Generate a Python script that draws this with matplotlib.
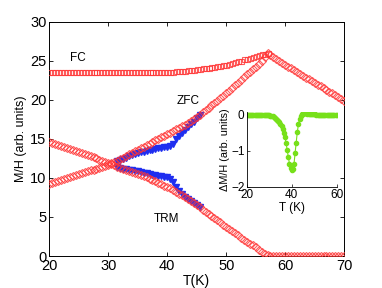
import numpy as np
import matplotlib
matplotlib.use('Agg')
import matplotlib.pyplot as plt

plt.rcParams['font.family'] = ['Liberation Sans', 'DejaVu Sans']

# temperature grids (K)
T_main = np.arange(20, 70.01, 0.5)
T_fc = np.arange(20, 57.01, 0.5)
T_blue = np.arange(31.5, 45.51, 0.5)
T_inset = np.arange(20, 60.01, 0.5)

fc = [23.5, 23.5, 23.5, 23.5, 23.5, 23.5, 23.5, 23.5, 23.5, 23.5,
      23.5, 23.5, 23.5, 23.5, 23.5, 23.5, 23.5, 23.5, 23.5, 23.5,
      23.5, 23.5, 23.5, 23.5, 23.5, 23.5, 23.5, 23.5, 23.5, 23.5,
      23.5, 23.5, 23.5, 23.5, 23.5, 23.5, 23.5,
      23.5, 23.52, 23.53, 23.55, 23.57, 23.6, 23.62, 23.65, 23.69, 23.72,
      23.76, 23.8, 23.85, 23.9, 23.95, 24.0, 24.06, 24.12, 24.18, 24.25,
      24.31, 24.37, 24.43, 24.5, 24.6, 24.7, 24.8, 24.9, 25.02, 25.15,
      25.27, 25.4, 25.5, 25.6, 25.7, 25.8, 25.9, 26.0]

zfc = [9.2, 9.32, 9.45, 9.57, 9.7, 9.82, 9.95, 10.07, 10.2, 10.32,
       10.45, 10.57, 10.7, 10.82, 10.95, 11.07, 11.2, 11.32, 11.45, 11.57,
       11.7, 11.85, 12.0, 12.2, 12.4, 12.6, 12.8, 13.0, 13.2, 13.4,
       13.6, 13.8, 14.0, 14.2, 14.4, 14.6, 14.8, 15.0, 15.2, 15.4,
       15.6, 15.8, 16.0, 16.2, 16.4, 16.6, 16.8, 17.02, 17.25, 17.5,
       17.8, 18.1, 18.4, 18.7, 19.0, 19.3, 19.6, 19.9, 20.2, 20.5,
       20.8, 21.15, 21.5, 21.85, 22.2, 22.55, 22.9, 23.25, 23.6, 23.9,
       24.2, 24.6, 25.0, 25.5, 26.0,
       25.75, 25.5, 25.25, 25.0, 24.75, 24.5, 24.25, 24.0, 23.75, 23.5,
       23.27, 23.05, 22.82, 22.6, 22.37, 22.15, 21.92, 21.7, 21.47, 21.25,
       21.02, 20.8, 20.57, 20.35, 20.12, 19.9]

trm = [14.6, 14.45, 14.3, 14.17, 14.05, 13.92, 13.8, 13.67, 13.55, 13.42,
       13.3, 13.17, 13.05, 12.92, 12.8, 12.65, 12.5, 12.35, 12.2, 12.05,
       11.9, 11.75, 11.6, 11.45, 11.3, 11.15, 11.0, 10.87, 10.75, 10.62,
       10.5, 10.35, 10.2, 10.05, 9.9, 9.72, 9.55, 9.37, 9.2, 9.02,
       8.85, 8.65, 8.45, 8.22, 8.0, 7.75, 7.5, 7.25, 7.0, 6.75,
       6.5, 6.22, 5.95, 5.67, 5.4, 5.12, 4.85, 4.57, 4.3, 4.02,
       3.75, 3.47, 3.2, 2.92, 2.65, 2.37, 2.1, 1.85, 1.6, 1.35,
       1.1, 0.82, 0.55, 0.3, 0.1,
       0.0, 0.0, 0.0, 0.0, 0.0, 0.0, 0.0, 0.0, 0.0, 0.0,
       0.0, 0.0, 0.0, 0.0, 0.0, 0.0, 0.0, 0.0, 0.0, 0.0,
       0.0, 0.0, 0.0, 0.0, 0.0, 0.0]

# second sample (blue), only where it separates from the red curves
zfc_blue = [12.2, 12.3, 12.45, 12.6, 12.75, 12.9, 13.03,
            13.15, 13.25, 13.35, 13.45, 13.55, 13.63, 13.7, 13.78, 13.85, 13.92,
            14.0, 14.1, 14.4, 15.0, 15.4, 15.8, 16.1, 16.5, 16.85, 17.2,
            17.6, 18.05]

trm_blue = [11.45, 11.3, 11.2, 11.1, 11.05, 11.0, 10.92,
            10.85, 10.75, 10.65, 10.57, 10.5, 10.42, 10.35, 10.27, 10.2, 10.12,
            10.05, 9.9, 9.5, 8.8, 8.3, 7.9, 7.6, 7.3, 7.0, 6.75,
            6.5, 6.22]

dmh = [0.01, 0.01, 0.01, 0.01, 0.0, 0.0, 0.0, 0.0, 0.0, 0.0,
       0.0, 0.0, 0.0, 0.0, 0.0, 0.0, 0.0, 0.0, -0.01, -0.01,
       -0.01, -0.02, -0.03, -0.04, -0.06, -0.08, -0.1, -0.13, -0.16, -0.2,
       -0.25, -0.31, -0.39, -0.5, -0.62, -0.78, -0.98, -1.17, -1.36, -1.47,
       -1.53, -1.52, -1.38, -1.07, -0.77, -0.47, -0.26, -0.11, -0.03, 0.02,
       0.04, 0.05, 0.05, 0.05, 0.04, 0.04, 0.03, 0.03, 0.02, 0.02,
       0.02, 0.02, 0.01, 0.01, 0.01, 0.01, 0.01, 0.01, 0.0, 0.0,
       0.0, 0.0, 0.0, 0.0, 0.0, 0.0, 0.0, 0.0, 0.0, 0.0,
       0.0]

red = '#ff3535'
blue = '#1f2ef0'
green = '#77e01a'

fig = plt.figure(figsize=(3.82, 2.88), dpi=100)
ax = fig.add_axes([0.129, 0.111, 0.772, 0.814])

ax.plot(T_blue, zfc_blue, ls='none', marker='v', ms=4.3, color=blue, mec=blue, zorder=2)
ax.plot(T_blue, trm_blue, ls='none', marker='v', ms=4.3, color=blue, mec=blue, zorder=2)
ax.plot(T_fc, fc, ls='none', marker='s', ms=3.6, mfc='none', mec=red, mew=0.8, alpha=0.8, zorder=3)
ax.plot(T_main, zfc, ls='none', marker='D', ms=3.6, mfc='none', mec=red, mew=0.8, alpha=0.8, zorder=3)
ax.plot(T_main, trm, ls='none', marker='D', ms=3.6, mfc='none', mec=red, mew=0.8, alpha=0.8, zorder=3)

ax.text(24.9, 25.4, 'FC', fontsize=8.5, ha='center', va='center')
ax.text(43.6, 19.8, 'ZFC', fontsize=8.5, ha='center', va='center')
ax.text(39.8, 4.7, 'TRM', fontsize=8.5, ha='center', va='center')

ax.set_xlim(20, 70)
ax.set_ylim(0, 30)
ax.set_xticks([20, 30, 40, 50, 60, 70])
ax.set_yticks([0, 5, 10, 15, 20, 25, 30])
ax.tick_params(direction='in', top=True, right=True, length=3, width=0.6, labelsize=10.5, pad=2)
for s in ax.spines.values():
    s.set_linewidth(0.7)
ax.set_xlabel('T(K)', fontsize=10, labelpad=1)
ax.set_ylabel('M/H (arb. units)', fontsize=9, labelpad=2)

axi = fig.add_axes([0.6458, 0.3517, 0.2356, 0.259])
axi.patch.set_alpha(0)
axi.plot(T_inset, dmh, '-', lw=0.8, color=green, marker='o', ms=3, mec=green, mfc=green)
axi.set_xlim(20, 60)
axi.set_ylim(-2, 0.08)
axi.set_xticks([20, 40, 60])
axi.set_yticks([-2, -1, 0])
axi.spines['top'].set_visible(False)
axi.spines['right'].set_visible(False)
for s in ['left', 'bottom']:
    axi.spines[s].set_linewidth(0.6)
axi.tick_params(direction='in', length=2.5, width=0.5, labelsize=8.5, pad=1.5)
axi.set_xlabel('T (K)', fontsize=8.5, labelpad=1)
axi.set_ylabel('ΔM/H (arb. units)', fontsize=7.8, labelpad=1)

fig.savefig('out.png', dpi=100)
